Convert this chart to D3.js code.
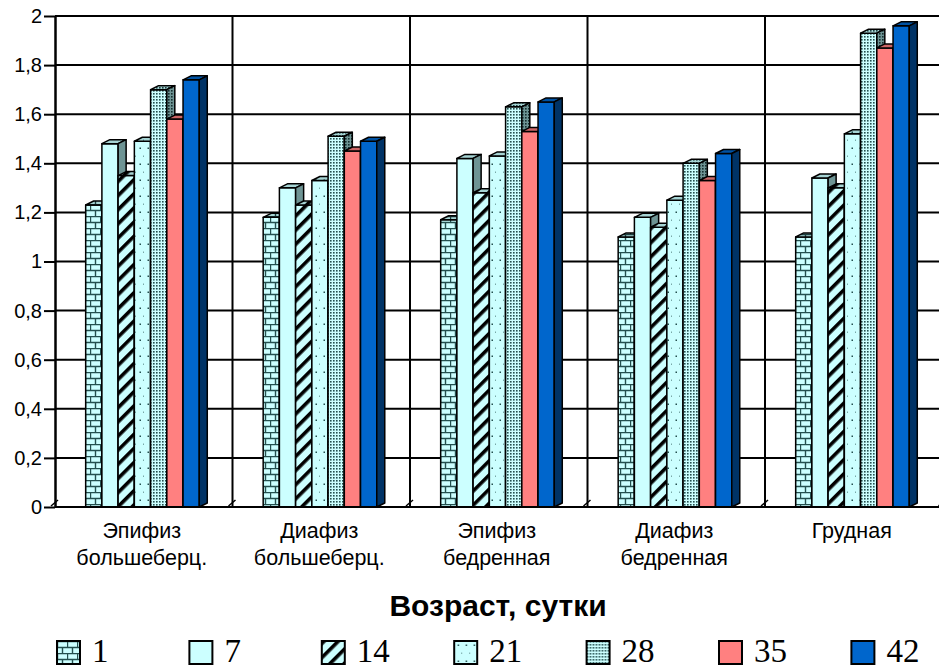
<!DOCTYPE html>
<html><head><meta charset="utf-8">
<script src="https://cdn.jsdelivr.net/npm/d3@7"></script>
<style>html,body{margin:0;padding:0;background:#fff;}svg{display:block}</style>
</head><body><svg id="chart" width="939" height="668"></svg>
<script>
// Categories (bone sites), two lines each
const categories = [
  ["Эпифиз", "большеберц."],
  ["Диафиз", "большеберц."],
  ["Эпифиз", "бедренная"],
  ["Диафиз", "бедренная"],
  ["Грудная"]
];
// Series = age in days
const seriesNames = ["1", "7", "14", "21", "28", "35", "42"];
const day1  = [1.23, 1.18, 1.17, 1.10, 1.10];
const day7  = [1.48, 1.30, 1.42, 1.18, 1.34];
const day14 = [1.35, 1.23, 1.28, 1.14, 1.30];
const day21 = [1.49, 1.33, 1.43, 1.25, 1.52];
const day28 = [1.70, 1.51, 1.63, 1.40, 1.93];
const day35 = [1.58, 1.45, 1.53, 1.33, 1.87];
const day42 = [1.74, 1.49, 1.65, 1.44, 1.96];
const yTickValues = [0, 0.2, 0.4, 0.6, 0.8, 1, 1.2, 1.4, 1.6, 1.8, 2];
const yTickLabels = ["0", "0,2", "0,4", "0,6", "0,8", "1", "1,2", "1,4", "1,6", "1,8", "2"];
const axisTitle = "Возраст, сутки";

const seriesValues = [day1, day7, day14, day21, day28, day35, day42];

const svg = d3.select("#chart");
const plotLeft = 55, plotTop = 16, plotBottom = 507, plotRight = 942.5;
const depthX = 8, depthY = 4;

const y = d3.scaleLinear().domain([0, 2]).range([plotBottom, plotTop]);
const x0 = d3.scaleBand().domain(d3.range(categories.length))
  .range([plotLeft, plotRight]).paddingInner(0.36).paddingOuter(0.18).align(0.48);
const x1 = d3.scaleBand().domain(seriesNames).range([0, x0.bandwidth()]);

// ---------- fill patterns ----------
const defs = svg.append("defs");
function pattern(id, w, h, bg, draw, transform) {
  const p = defs.append("pattern").attr("id", id)
    .attr("patternUnits", "userSpaceOnUse").attr("width", w).attr("height", h);
  if (transform) p.attr("patternTransform", transform);
  p.append("rect").attr("width", w).attr("height", h).attr("fill", bg);
  draw(p);
}
const brick = fg => p => p.append("path")
  .attr("d", "M0,0.5H10M0,6.5H10M0.5,0.5V6.5M5.5,6.5V12")
  .attr("stroke", fg).attr("stroke-width", 1.4).attr("fill", "none");
const stripe = fg => p => p.append("rect").attr("x", 0).attr("width", 3.6).attr("height", 10).attr("fill", fg);
const sparseDots = fg => p => {
  p.append("rect").attr("x", 3.5).attr("y", 3.5).attr("width", 1.5).attr("height", 1.5).attr("fill", fg);
  p.append("rect").attr("x", 7.5).attr("y", 11.5).attr("width", 1.5).attr("height", 1.5).attr("fill", fg);
};
const denseDots = fg => p => p.append("rect").attr("width", 1.6).attr("height", 1.6).attr("fill", fg);

const shades = {
  front: {bg: "#ccffff", fg: "#24504f", ink: "#000"},
  top:   {bg: "#a6d4d4", fg: "#1d4040", ink: "#000"},
  side:  {bg: "#6e9494", fg: "#152f2f", ink: "#000"}
};
for (const [k, s] of Object.entries(shades)) {
  pattern("brick-" + k, 10, 12, s.bg, brick(s.fg));
  pattern("stripe-" + k, 10, 10, s.bg, stripe(s.ink), "rotate(45)");
  pattern("sdots-" + k, 8, 16, s.bg, sparseDots(s.fg));
  pattern("ddots-" + k, 3, 3, s.bg, denseDots(s.fg));
}
const fills = {
  "1":  {front: "url(#brick-front)", top: "url(#brick-top)", side: "url(#brick-side)"},
  "7":  {front: "#ccffff", top: "#a6d4d4", side: "#6e9494"},
  "14": {front: "url(#stripe-front)", top: "url(#stripe-top)", side: "url(#stripe-side)"},
  "21": {front: "url(#sdots-front)", top: "url(#sdots-top)", side: "url(#sdots-side)"},
  "28": {front: "url(#ddots-front)", top: "url(#ddots-top)", side: "url(#ddots-side)"},
  "35": {front: "#ff8080", top: "#cc6666", side: "#8c4646"},
  "42": {front: "#0066cc", top: "#0052a3", side: "#003366"}
};

// ---------- gridlines & walls ----------
const grid = svg.append("g").attr("stroke", "#000").attr("stroke-width", 2);
grid.selectAll("line.h").data(yTickValues).join("line").attr("class", "h")
  .attr("x1", plotLeft).attr("x2", 939).attr("y1", d => y(d)).attr("y2", d => y(d));
const boundaries = d3.range(categories.length + 1).map(i => plotLeft + i * x0.step());
grid.selectAll("line.v").data(boundaries.slice(1)).join("line").attr("class", "v")
  .attr("x1", d => d).attr("x2", d => d).attr("y1", plotTop).attr("y2", plotBottom);
grid.selectAll("path.floor").data(boundaries).join("path").attr("class", "floor")
  .attr("fill", "none").attr("stroke-width", 1.5)
  .attr("d", d => `M${d - 4},${plotBottom - 1}L${d + 3},${plotBottom - 7}`);

// ---------- 3D bars ----------
const bars = svg.append("g").attr("stroke", "#000").attr("stroke-width", 1.5).attr("stroke-linejoin", "round");
categories.forEach((cat, i) => {
  seriesNames.forEach((name, j) => {
    const v = seriesValues[j][i];
    const bx = x0(i) + x1(name), bw = x1.bandwidth();
    const yt = y(v), yb = y(0);
    const g = bars.append("g");
    g.append("rect").attr("x", bx).attr("y", yt).attr("width", bw).attr("height", yb - yt)
      .attr("fill", fills[name].front);
    g.append("path").attr("fill", fills[name].top)
      .attr("d", `M${bx},${yt}L${bx + depthX},${yt - depthY}L${bx + bw + depthX},${yt - depthY}L${bx + bw},${yt}Z`);
    g.append("path").attr("fill", fills[name].side)
      .attr("d", `M${bx + bw},${yt}L${bx + bw + depthX},${yt - depthY}L${bx + bw + depthX},${yb - depthY}L${bx + bw},${yb}Z`);
  });
});

// ---------- axes ----------
const yAxis = svg.append("g").attr("transform", `translate(${plotLeft},0)`)
  .call(d3.axisLeft(y).tickValues(yTickValues).tickFormat((d, i) => yTickLabels[i]).tickSize(11).tickSizeOuter(0).tickPadding(2));
yAxis.select(".domain").attr("stroke-width", 2.5);
yAxis.selectAll(".tick line").attr("stroke-width", 2);
yAxis.selectAll("text").attr("font-family", "Liberation Sans, Arial, sans-serif").attr("font-size", 20).attr("fill", "#000");

svg.append("line").attr("x1", plotLeft).attr("x2", 939).attr("y1", plotBottom).attr("y2", plotBottom)
  .attr("stroke", "#000").attr("stroke-width", 2);

const xLabels = svg.append("g").attr("font-family", "Liberation Sans, Arial, sans-serif")
  .attr("font-size", 21.5).attr("text-anchor", "middle").attr("fill", "#000");
categories.forEach((lines, i) => {
  const cx = plotLeft + (i + 0.5) * x0.step() - 2;
  const t = xLabels.append("text").attr("x", cx).attr("y", 538);
  lines.forEach((ln, k) => t.append("tspan").attr("x", cx).attr("dy", k ? 27 : 0).text(ln));
});

svg.append("text").attr("x", 498).attr("y", 616).attr("text-anchor", "middle")
  .attr("font-family", "Liberation Sans, Arial, sans-serif").attr("font-weight", "bold")
  .attr("font-size", 30).attr("fill", "#000").text(axisTitle);

// ---------- legend ----------
const lx = d3.scaleBand().domain(seriesNames).range([57, 57 + 7 * 132.4]);
const legend = svg.append("g");
seriesNames.forEach(name => {
  const g = legend.append("g").attr("transform", `translate(${lx(name)},641)`);
  g.append("rect").attr("width", 23).attr("height", 23).attr("fill", fills[name].front)
    .attr("stroke", "#000").attr("stroke-width", 2);
  g.append("text").attr("x", 35).attr("y", 20.5).attr("font-family", "Liberation Serif, Times New Roman, serif")
    .attr("font-size", 33).attr("fill", "#000").text(name);
});
</script>
</body></html>
